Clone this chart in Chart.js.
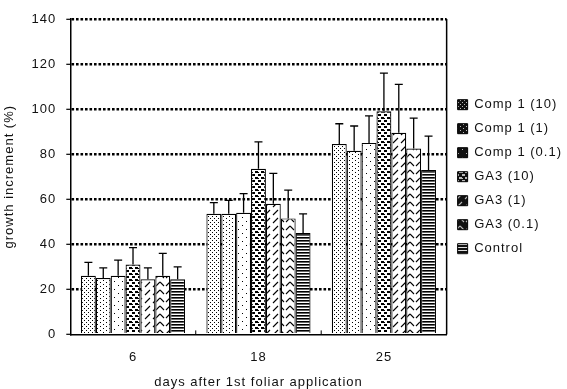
<!DOCTYPE html>
<html><head><meta charset="utf-8">
<script src="https://cdn.jsdelivr.net/npm/chart.js@4/dist/chart.umd.min.js"></script>
<style>html,body{margin:0;padding:0;background:#fff}#wrap{width:567px;height:389px;position:relative}</style>
</head><body><div id="wrap"><canvas id="c"></canvas></div>
<script>
// ---- data ----
const categories = ['6', '18', '25'];
const seriesNames = ['Comp 1 (10)', 'Comp 1 (1)', 'Comp 1 (0.1)', 'GA3 (10)', 'GA3 (1)', 'GA3 (0.1)', 'Control'];
const comp1_10  = [26, 53.5, 84.5];
const comp1_1   = [25, 53.5, 81.5];
const comp1_01  = [26, 54, 85];
const ga3_10    = [31, 73.5, 99];
const ga3_1     = [24.5, 58, 89.5];
const ga3_01    = [26, 51.5, 82.5];
const control   = [24.5, 45, 73];
const err_comp1_10 = [6, 5, 9];
const err_comp1_1  = [4.5, 6, 11];
const err_comp1_01 = [7, 8.5, 12];
const err_ga3_10   = [7.5, 12, 17];
const err_ga3_1    = [5, 13.5, 21.5];
const err_ga3_01   = [10, 12.5, 13.5];
const err_control  = [5.5, 8.5, 15];
const yTicks = [0, 20, 40, 60, 80, 100, 120, 140];
const xTitle = 'days after 1st foliar application';
const yTitle = 'growth increment (%)';

// ---- patterns ----
function makePattern(kind, invert) {
  const c = document.createElement('canvas');
  const sizes = {fine:[4,4], mid:[6,4], sparse:[8,8], coarse:[6,6], slash:[8,8], chevron:[10,8], hlines:[4,3]};
  const [w, h] = sizes[kind];
  c.width = w; c.height = h;
  const g = c.getContext('2d');
  const bg = invert ? '#111' : '#fff', fg = invert ? '#bbb' : '#000';
  g.fillStyle = bg; g.fillRect(0, 0, w, h);
  g.fillStyle = fg; g.strokeStyle = fg;
  if (kind === 'fine') { g.fillRect(0,0,1,1); g.fillRect(2,2,1,1); }
  else if (kind === 'mid') { g.fillRect(1,0,1,1); g.fillRect(4,2,1,1); }
  else if (kind === 'sparse') { g.fillRect(2,1,1,1); g.fillRect(6,5,1,1); }
  else if (kind === 'coarse') { g.fillRect(0,0,3,2); g.fillRect(3,3,3,2); g.fillRect(0,4,1,1); }
  else if (kind === 'slash') { g.lineWidth = 1.1; g.beginPath(); g.moveTo(1,7); g.lineTo(6,2); g.stroke(); }
  else if (kind === 'chevron') { g.lineWidth = 1.1; g.beginPath(); g.moveTo(0,2); g.lineTo(4,6); g.moveTo(6,6); g.lineTo(10,2); g.stroke(); }
  else if (kind === 'hlines') {
    if (invert) { g.fillStyle = '#111'; g.fillRect(0,0,4,3); g.fillStyle = '#ddd'; g.fillRect(0,1,4,1); }
    else { g.fillRect(0,0,4,1); g.fillStyle = '#666'; g.fillRect(0,1,4,1); }
  }
  return document.createElement('canvas').getContext('2d').createPattern(c, 'repeat');
}

const values = [comp1_10, comp1_1, comp1_01, ga3_10, ga3_1, ga3_01, control];
const errors = [err_comp1_10, err_comp1_1, err_comp1_01, err_ga3_10, err_ga3_1, err_ga3_01, err_control];
const kinds = ['fine', 'mid', 'sparse', 'coarse', 'slash', 'chevron', 'hlines'];
const legendFills = kinds.map(k => makePattern(k, true));

const datasets = seriesNames.map((name, i) => ({
  label: name,
  data: values[i],
  errors: errors[i],
  backgroundColor: makePattern(kinds[i], false),
  borderColor: '#000',
  borderWidth: 1.2,
  categoryPercentage: 0.83,
  barPercentage: 1.0
}));

const errorBars = {
  id: 'errorBars',
  afterDatasetsDraw(chart) {
    const ctx = chart.ctx, y = chart.scales.y;
    ctx.save();
    ctx.strokeStyle = '#000'; ctx.lineWidth = 1.3;
    chart.data.datasets.forEach((ds, i) => {
      const meta = chart.getDatasetMeta(i);
      meta.data.forEach((bar, j) => {
        const top = y.getPixelForValue(ds.data[j] + ds.errors[j]);
        ctx.beginPath();
        ctx.moveTo(bar.x, bar.y); ctx.lineTo(bar.x, top);
        ctx.moveTo(bar.x - 4, top); ctx.lineTo(bar.x + 4, top);
        ctx.stroke();
      });
    });
    ctx.restore();
  }
};

const frame = {
  id: 'frame',
  beforeDatasetsDraw(chart) {
    const ctx = chart.ctx, a = chart.chartArea, x = chart.scales.x;
    ctx.save();
    ctx.strokeStyle = '#000'; ctx.lineWidth = 1.5;
    ctx.beginPath(); ctx.moveTo(a.right, a.top); ctx.lineTo(a.right, a.bottom); ctx.stroke();
    ctx.lineWidth = 1;
    for (let i = 0; i < categories.length - 1; i++) {
      const bx = (x.getPixelForValue(i) + x.getPixelForValue(i + 1)) / 2;
      ctx.beginPath(); ctx.moveTo(bx, a.bottom); ctx.lineTo(bx, a.bottom - 4); ctx.stroke();
    }
    ctx.restore();
  }
};

const spacing = {
  id: 'spacing',
  beforeUpdate(chart) { chart.ctx.letterSpacing = '1px'; },
  beforeDraw(chart) { chart.ctx.letterSpacing = '1px'; }
};

Chart.defaults.font.family = '"Liberation Sans", Arial, sans-serif';
Chart.defaults.font.size = 13;
Chart.defaults.color = '#222';

new Chart(document.getElementById('c'), {
  type: 'bar',
  data: { labels: categories, datasets },
  options: {
    responsive: true,
    maintainAspectRatio: false,
    animation: false,
    layout: { padding: { top: 19, right: -5, bottom: 0, left: 2 } },
    plugins: {
      legend: {
        position: 'right',
        fullSize: false,
        labels: {
          boxWidth: 10, boxHeight: 10, padding: 11, color: '#111', font: { size: 13, lineHeight: 0.7 },
          generateLabels(chart) {
            return chart.data.datasets.map((ds, i) => ({
              text: ds.label, fillStyle: legendFills[i], strokeStyle: '#000', lineWidth: 1,
              hidden: false, datasetIndex: i, fontColor: '#111'
            }));
          }
        }
      },
      tooltip: { enabled: false }
    },
    scales: {
      x: {
        grid: { display: false },
        border: { display: true, color: '#000', width: 1.5 },
        ticks: { padding: 7, color: '#111' },
        title: { display: true, text: xTitle, color: '#111', font: { lineHeight: 1.0 }, padding: { top: 4, bottom: 0 } }
      },
      y: {
        min: 0, max: 140,
        afterBuildTicks(scale) { scale.ticks = yTicks.map(v => ({ value: v })); },
        grid: {
          color: c => (c.tick && c.tick.value === 0) ? 'rgba(0,0,0,0)' : '#000',
          lineWidth: 2.6,
          tickColor: '#000',
          tickLength: 4,
          tickWidth: 1.2
        },
        border: { display: true, color: '#000', width: 1.5, dash: [2.6, 1.9] },
        ticks: { padding: 10, color: '#111' },
        title: { display: true, text: yTitle, color: '#111', padding: { top: 0, bottom: 4 } }
      }
    }
  },
  plugins: [errorBars, frame, spacing]
});
</script>
</body></html>
